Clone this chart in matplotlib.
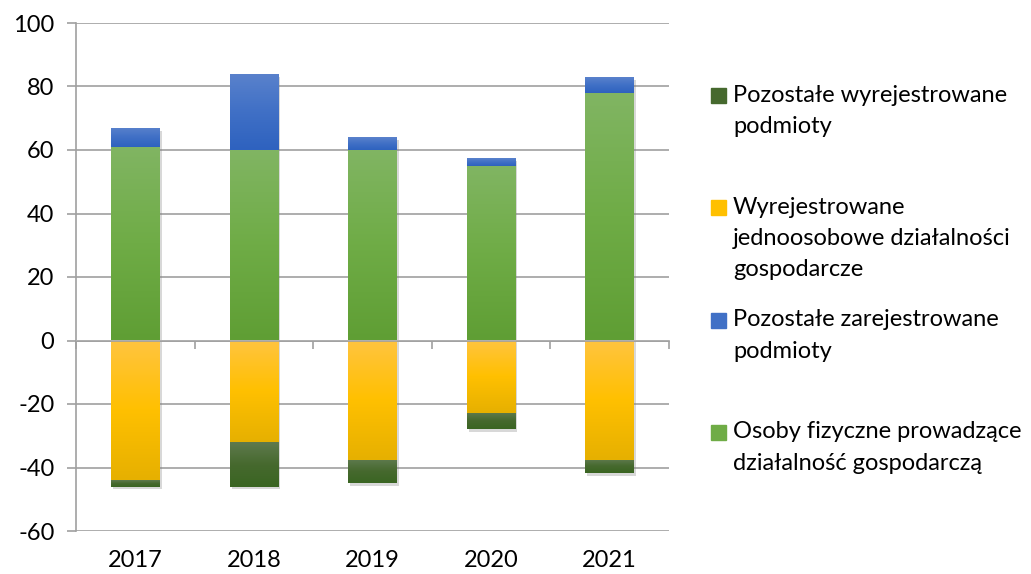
import matplotlib.pyplot as plt
import matplotlib.patheffects as pe
from matplotlib.patches import Rectangle
from matplotlib.colors import LinearSegmentedColormap
import numpy as np

plt.rcParams['font.family'] = ['Lato', 'DejaVu Sans']
plt.rcParams['axes.unicode_minus'] = False

years = ['2017', '2018', '2019', '2020', '2021']

# positive part (registered)
osoby_fizyczne = [61, 60, 60, 55, 78]
pozostale_zarej = [6, 24, 4, 2.5, 5]
# negative part (deregistered)
wyrej_jednoos = [-44, -32, -37.5, -22.7, -37.5]
pozostale_wyrej = [-2, -14, -7.5, -5.3, -4.3]

legend_labels = ['Pozostałe wyrejestrowane\npodmioty',
                 'Wyrejestrowane\njednoosobowe działalności\ngospodarcze',
                 'Pozostałe zarejestrowane\npodmioty',
                 'Osoby fizyczne prowadzące\ndziałalność gospodarczą']

# gradients (top, middle, bottom) like the Excel fills
grad_green = ['#81b563', '#6fac46', '#5f9e34']
grad_blue = ['#5a82cc', '#4070c6', '#2e62bf']
grad_yellow = ['#ffc440', '#ffc000', '#e6b000']
grad_dark = ['#5f7a4e', '#46692e', '#3a6522']
legend_grads = [grad_dark, grad_yellow, grad_blue, grad_green]

fig = plt.figure(figsize=(10.31, 5.74), dpi=100)
ax = fig.add_axes([76 / 1031, 1 - 531 / 574, 593 / 1031, 508 / 574])

x = np.arange(len(years))
w = 0.41
shadow = [pe.SimplePatchShadow(offset=(1.5, -2), shadow_rgbFace='#808080', alpha=0.3), pe.Normal()]

grad = np.linspace(0, 1, 256).reshape(-1, 1)


def fill_gradient(bars, stops):
    cmap = LinearSegmentedColormap.from_list('g', stops[::-1])
    for p in bars:
        p.set_path_effects(shadow)
        x0, y0 = p.get_x(), p.get_y()
        x1, y1 = x0 + p.get_width(), y0 + p.get_height()
        im = ax.imshow(grad, cmap=cmap, aspect='auto', origin='lower',
                       extent=[x0, x1, min(y0, y1), max(y0, y1)], zorder=4)
        im.set_clip_path(p)


b1 = ax.bar(x, osoby_fizyczne, w, color=grad_green[1], zorder=3)
b2 = ax.bar(x, pozostale_zarej, w, bottom=osoby_fizyczne, color=grad_blue[1], zorder=3)
b3 = ax.bar(x, wyrej_jednoos, w, color=grad_yellow[1], zorder=3)
b4 = ax.bar(x, pozostale_wyrej, w, bottom=wyrej_jednoos, color=grad_dark[1], zorder=3)
for bars, stops in zip((b1, b2, b3, b4), (grad_green, grad_blue, grad_yellow, grad_dark)):
    fill_gradient(bars, stops)

ax.set_xlim(-0.5, len(years) - 0.5)
ax.set_ylim(-60, 100)
ax.set_yticks(np.arange(-60, 101, 20))
ax.grid(axis='y', color='#a0a0a0', lw=1.2, zorder=0)
ax.set_axisbelow(True)

for s in ['top', 'right', 'bottom']:
    ax.spines[s].set_visible(False)
ax.spines['left'].set_color('#a0a0a0')
ax.spines['left'].set_linewidth(1.2)

ax.tick_params(axis='y', length=6.5, width=1.2, color='#a0a0a0', pad=9, labelsize=17)
ax.set_xticks(x)
ax.set_xticklabels(years)
ax.tick_params(axis='x', length=0, pad=14, labelsize=17)

# zero line with category ticks
zero = ax.secondary_xaxis(60 / 160)
zero.set_xticks(np.arange(-0.5, len(years), 1))
zero.set_xticklabels([])
zero.tick_params(axis='x', direction='out', length=6, width=1.2, color='#a0a0a0')
zero.spines['bottom'].set_color('#a0a0a0')
zero.spines['bottom'].set_linewidth(1.2)
zero.set_zorder(5)

# legend drawn by hand
ys = [95, 207, 320, 432]
for lab, stops, yc in zip(legend_labels, legend_grads, ys):
    fig.patches.append(Rectangle((711 / 1031, 1 - (yc + 7.5) / 574), 15 / 1031, 15 / 574,
                                 transform=fig.transFigure, color=stops[1]))
    for i, line in enumerate(lab.split('\n')):
        fig.text(733 / 1031, 1 - (yc + i * 31.5) / 574, line, fontsize=17,
                 va='center', ha='left')

fig.savefig('out.png', dpi=100)
